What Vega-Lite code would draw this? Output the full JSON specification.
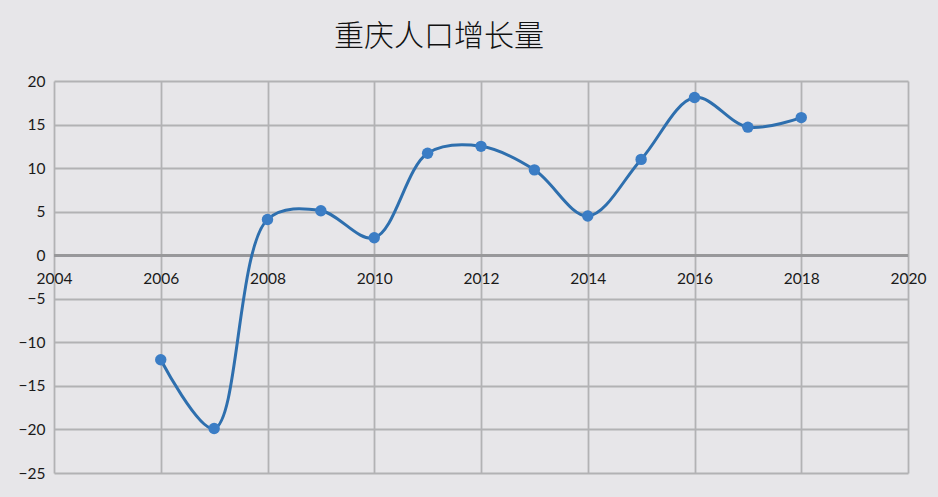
{
  "$schema": "https://vega.github.io/schema/vega-lite/v6.json",
  "autosize": {"type": "none"},
  "width": 854,
  "height": 392,
  "padding": {"left": 54, "top": 81, "right": 30, "bottom": 24},
  "background": "#e7e6e9",
  "title": {
    "text": "重庆人口增长量",
    "font": "Noto Sans CJK SC",
    "fontSize": 30,
    "fontWeight": 300,
    "color": "#111111",
    "anchor": "start",
    "dx": 316,
    "offset": -2,
    "baseline": "alphabetic"
  },
  "config": {
    "view": {"stroke": null},
    "axis": {
      "labelFont": "Lato",
      "labelFontSize": 15.5,
      "labelColor": "#1a1a1a",
      "gridColor": "#b2b2b4",
      "gridWidth": 1.8,
      "gridOpacity": 1,
      "domain": false,
      "ticks": false
    }
  },
  "data": {
    "values": [
      {"year": 2006, "value": -12.0},
      {"year": 2007, "value": -19.9},
      {"year": 2008, "value": 4.1},
      {"year": 2009, "value": 5.1},
      {"year": 2010, "value": 2.0},
      {"year": 2011, "value": 11.7},
      {"year": 2012, "value": 12.5},
      {"year": 2013, "value": 9.8},
      {"year": 2014, "value": 4.5},
      {"year": 2015, "value": 11.0},
      {"year": 2016, "value": 18.1},
      {"year": 2017, "value": 14.7},
      {"year": 2018, "value": 15.8}
    ]
  },
  "encoding": {
    "x": {
      "field": "year",
      "type": "quantitative",
      "scale": {"domain": [2004, 2020], "nice": false, "zero": false},
      "axis": {
        "title": null,
        "values": [2004, 2006, 2008, 2010, 2012, 2014, 2016, 2018, 2020],
        "format": "d",
        "offset": -218,
        "labelPadding": 16,
        "labelFlush": false
      }
    },
    "y": {
      "field": "value",
      "type": "quantitative",
      "scale": {"domain": [-25, 20], "nice": false},
      "axis": {
        "title": null,
        "values": [-25, -20, -15, -10, -5, 0, 5, 10, 15, 20],
        "labelPadding": 9
      }
    }
  },
  "layer": [
    {
      "mark": {"type": "rule", "color": "#98989a", "strokeWidth": 2},
      "encoding": {"y": {"datum": 0}, "x": {"datum": 2004}, "x2": {"datum": 2020}}
    },
    {
      "mark": {"type": "line", "interpolate": "catmull-rom", "color": "#2e6fae", "strokeWidth": 3}
    },
    {
      "mark": {"type": "point", "filled": true, "color": "#3b7dc5", "size": 130, "opacity": 1}
    }
  ]
}
